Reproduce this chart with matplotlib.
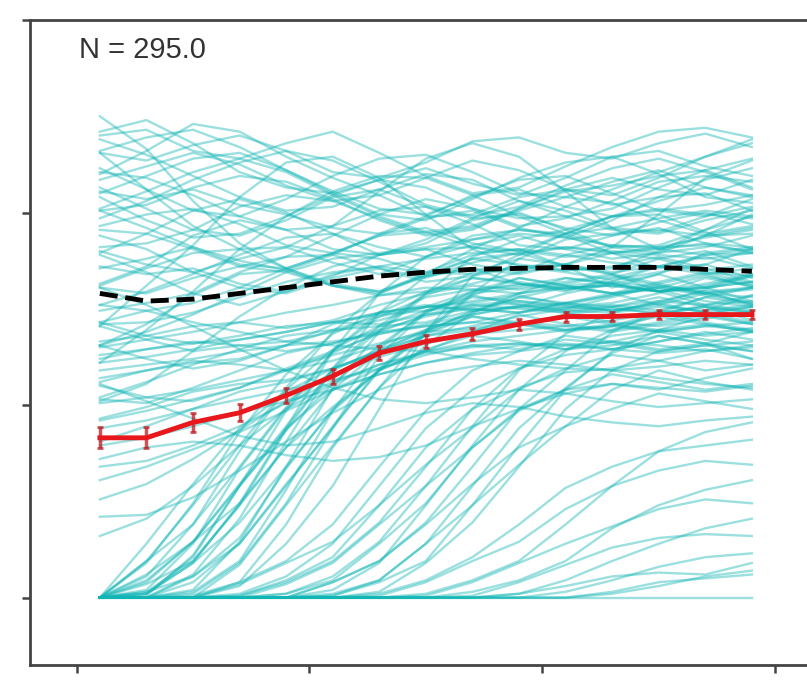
import matplotlib
matplotlib.use("Agg")
from matplotlib import pyplot as plt

# time points (bin centres)
t = [0.5, 1.5, 2.5, 3.5, 4.5, 5.5, 6.5, 7.5, 8.5, 9.5, 10.5, 11.5, 12.5, 13.5, 14.5]

# individual trajectories, grouped roughly by shape
high_paths = [
    [24.2, 24.8, 23.6, 22.1, 21.3, 21.0, 21.7, 22.3, 21.5, 20.9, 21.8, 22.9, 23.2, 22.4, 21.9],
    [23.1, 22.7, 23.5, 24.0, 23.2, 22.1, 21.8, 22.6, 23.7, 23.9, 23.1, 22.8, 23.6, 24.1, 23.4],
    [22.3, 21.2, 20.1, 19.8, 20.7, 21.9, 22.8, 23.0, 22.1, 21.0, 20.8, 21.6, 22.2, 21.3, 20.8],
    [21.0, 21.9, 22.8, 23.1, 22.2, 21.0, 19.9, 19.6, 20.7, 21.8, 22.6, 22.9, 22.0, 20.8, 20.5],
    [20.1, 20.4, 21.3, 21.9, 21.6, 20.7, 19.6, 18.8, 19.1, 20.2, 21.1, 21.4, 21.9, 22.2, 21.3],
    [19.3, 19.9, 20.2, 19.4, 18.3, 17.9, 18.8, 19.7, 20.1, 19.2, 18.7, 19.6, 20.8, 21.0, 20.1],
    [23.8, 23.0, 21.9, 20.8, 20.1, 20.3, 21.2, 22.0, 21.7, 20.6, 19.8, 20.2, 21.3, 22.2, 22.8],
    [18.2, 18.4, 19.1, 20.3, 20.9, 20.6, 19.7, 18.9, 19.2, 20.1, 20.8, 20.5, 19.6, 18.9, 19.3],
    [17.1, 17.6, 18.2, 17.5, 17.0, 17.8, 18.9, 19.2, 18.4, 18.0, 18.9, 19.8, 20.1, 20.4, 20.9],
    [23.2, 23.9, 24.3, 23.4, 22.2, 21.1, 20.2, 19.9, 20.8, 21.7, 21.9, 21.0, 20.1, 19.8, 20.3],
    [16.3, 17.2, 18.8, 19.6, 19.1, 18.1, 17.8, 18.6, 19.7, 19.9, 19.2, 18.8, 19.5, 20.0, 19.4],
    [22.1, 21.8, 20.9, 19.8, 19.1, 19.3, 20.1, 20.3, 19.4, 18.3, 18.1, 18.8, 19.2, 18.4, 17.9],
    [20.2, 21.1, 22.1, 22.8, 22.1, 20.9, 19.8, 19.0, 19.3, 20.2, 21.2, 21.8, 21.2, 20.9, 21.7],
    [15.2, 15.9, 16.8, 17.8, 18.7, 18.9, 18.2, 17.7, 18.3, 18.8, 18.1, 17.6, 17.9, 18.2, 18.8],
    [19.1, 18.9, 18.1, 17.2, 17.7, 18.8, 19.9, 20.7, 20.2, 19.7, 19.8, 19.1, 18.9, 19.6, 20.1],
    [21.3, 20.2, 19.1, 18.8, 19.6, 20.8, 21.2, 20.3, 19.7, 20.6, 20.1, 19.2, 19.0, 19.8, 20.7],
    [18.0, 17.3, 16.9, 17.6, 18.2, 17.4, 16.8, 17.7, 18.6, 19.1, 18.8, 17.9, 17.1, 17.3, 18.1],
    [24.0, 24.3, 23.2, 22.8, 23.6, 24.2, 23.1, 21.9, 21.0, 21.3, 22.4, 23.4, 24.2, 24.4, 23.9],
    [16.1, 15.8, 16.6, 17.2, 16.9, 16.2, 15.9, 16.7, 17.1, 16.8, 17.3, 17.9, 17.6, 16.9, 16.7],
    [17.9, 18.9, 20.1, 20.7, 20.0, 18.9, 17.8, 18.4, 19.6, 20.0, 19.1, 18.2, 17.9, 18.8, 19.2],
    [14.3, 14.9, 15.3, 16.1, 17.1, 17.9, 17.6, 16.9, 16.8, 17.2, 17.0, 17.1, 18.0, 19.1, 19.8],
    [20.1, 19.2, 18.2, 17.3, 17.1, 17.9, 18.8, 19.0, 18.2, 17.8, 18.9, 19.8, 19.9, 19.0, 18.1],
    [22.0, 23.2, 24.6, 24.2, 22.9, 21.8, 20.9, 19.8, 19.9, 20.8, 21.2, 20.9, 21.8, 22.9, 23.8],
    [14.9, 15.3, 15.8, 16.9, 17.7, 17.8, 17.1, 16.6, 17.4, 17.9, 17.2, 16.8, 17.6, 18.0, 17.2],
    [18.8, 18.1, 16.9, 16.1, 15.8, 16.6, 17.1, 16.4, 16.7, 17.2, 16.9, 16.5, 16.9, 17.3, 16.6],
    [17.2, 16.8, 17.1, 16.3, 15.9, 16.7, 17.8, 18.1, 17.3, 16.9, 17.8, 18.3, 18.2, 18.7, 19.1],
    [21.1, 20.7, 21.2, 20.4, 19.9, 19.2, 18.9, 19.8, 20.9, 21.2, 20.3, 19.8, 20.6, 21.3, 20.9],
    [13.1, 14.2, 15.7, 16.8, 17.0, 16.2, 15.8, 16.7, 17.1, 16.3, 15.9, 16.6, 17.2, 16.8, 16.1],
    [17.8, 16.9, 15.8, 15.2, 15.9, 16.8, 17.2, 16.9, 17.8, 18.1, 17.2, 16.1, 16.8, 17.9, 18.2],
    [16.2, 17.1, 17.9, 18.1, 17.1, 16.2, 15.7, 15.9, 16.3, 16.9, 17.3, 16.8, 15.9, 16.1, 16.8],
    [25.0, 23.3, 20.6, 18.4, 17.1, 16.3, 15.9, 16.8, 18.1, 19.2, 20.3, 21.2, 22.1, 22.9, 23.6],
    [12.2, 13.9, 15.9, 18.1, 19.8, 21.1, 21.9, 21.8, 20.9, 19.8, 18.9, 18.2, 18.3, 19.1, 20.2],
    [23.1, 21.2, 19.3, 18.1, 18.2, 19.3, 21.1, 22.8, 23.6, 22.9, 21.1, 19.2, 18.1, 18.8, 19.9],
    [14.1, 16.2, 18.3, 20.8, 22.6, 22.9, 21.8, 19.9, 18.1, 17.2, 17.3, 18.2, 19.9, 21.8, 22.7],
    [21.7, 22.4, 23.1, 22.5, 21.4, 20.6, 20.9, 21.8, 22.7, 22.2, 21.2, 20.4, 20.8, 21.7, 22.3],
    [19.7, 20.6, 21.7, 22.6, 23.2, 22.7, 21.6, 20.4, 19.8, 20.3, 21.4, 22.3, 22.8, 22.1, 21.2],
    [20.8, 19.6, 18.7, 18.9, 19.8, 20.9, 21.7, 21.3, 20.2, 19.3, 19.7, 20.6, 21.6, 21.9, 21.6],
]

mid_paths = [
    [12.2, 12.5, 12.9, 13.4, 13.8, 14.3, 14.8, 15.1, 15.4, 15.8, 16.1, 16.2, 15.9, 16.3, 16.8],
    [10.3, 10.1, 10.9, 11.8, 12.7, 13.2, 13.9, 14.6, 15.1, 15.3, 15.0, 15.6, 16.2, 15.9, 15.2],
    [13.1, 12.4, 11.9, 12.3, 13.1, 14.2, 14.8, 15.2, 14.9, 15.1, 15.8, 16.3, 15.9, 15.2, 15.7],
    [9.2, 9.7, 10.3, 10.9, 11.9, 12.8, 13.7, 14.2, 14.7, 15.2, 14.9, 14.8, 15.4, 15.9, 16.1],
    [14.1, 13.4, 12.8, 13.1, 13.3, 13.8, 14.4, 15.1, 15.9, 16.3, 16.1, 15.8, 16.4, 16.9, 16.3],
    [11.2, 11.8, 12.3, 12.1, 11.8, 12.7, 13.8, 14.7, 15.0, 14.8, 15.3, 15.1, 14.7, 15.2, 15.4],
    [8.1, 8.9, 9.8, 10.7, 11.2, 11.9, 12.8, 13.6, 14.1, 14.6, 15.0, 15.2, 14.9, 14.7, 15.1],
    [12.4, 12.9, 13.3, 13.1, 12.8, 13.2, 13.8, 14.1, 14.3, 14.8, 15.1, 14.9, 15.3, 14.8, 14.3],
    [10.1, 10.4, 10.8, 11.3, 11.8, 12.3, 13.1, 13.9, 14.7, 15.1, 14.8, 14.3, 14.1, 14.5, 14.9],
    [13.3, 13.6, 14.1, 14.3, 14.0, 14.4, 15.2, 15.8, 16.2, 16.0, 16.3, 16.7, 16.2, 15.8, 16.1],
    [11.0, 10.4, 10.2, 10.9, 11.8, 12.6, 13.2, 13.8, 14.0, 14.3, 14.1, 13.8, 14.2, 14.7, 14.2],
    [9.3, 9.9, 10.7, 11.1, 11.3, 11.9, 12.7, 13.3, 13.8, 14.2, 14.7, 15.0, 14.8, 14.3, 13.9],
    [14.3, 13.6, 13.2, 13.6, 14.1, 14.3, 14.2, 14.7, 15.2, 15.4, 15.2, 15.7, 16.3, 16.8, 17.1],
    [11.8, 12.1, 12.4, 12.8, 13.1, 13.3, 13.7, 14.1, 14.3, 14.2, 13.9, 14.1, 13.8, 13.4, 13.1],
    [10.4, 11.2, 12.1, 12.9, 13.6, 13.9, 14.1, 14.3, 14.9, 15.6, 16.1, 16.2, 15.9, 16.1, 16.4],
    [7.9, 8.3, 8.9, 9.6, 10.2, 10.8, 11.6, 12.2, 12.7, 13.1, 13.2, 12.9, 12.7, 12.9, 12.4],
    [13.0, 13.4, 13.8, 14.3, 14.8, 15.2, 15.7, 16.1, 16.0, 15.8, 16.2, 16.4, 16.1, 15.7, 15.3],
    [11.4, 11.8, 12.2, 12.4, 13.1, 13.9, 14.6, 15.1, 15.0, 14.8, 15.3, 15.7, 16.1, 15.8, 15.6],
    [8.8, 9.2, 9.8, 10.3, 10.8, 11.3, 11.9, 12.6, 13.1, 13.2, 12.9, 13.3, 13.8, 14.1, 13.9],
    [12.6, 12.9, 13.2, 13.4, 13.8, 14.3, 14.7, 14.9, 15.2, 15.0, 14.8, 15.1, 15.4, 15.2, 14.9],
    [5.1, 5.9, 7.2, 8.7, 10.2, 11.6, 12.5, 13.2, 13.7, 13.9, 14.1, 14.4, 14.8, 15.1, 14.8],
    [3.2, 4.1, 5.8, 7.9, 9.8, 11.1, 12.1, 12.8, 13.3, 13.6, 13.9, 14.2, 13.9, 13.6, 13.8],
    [6.8, 7.1, 7.9, 8.9, 10.1, 11.2, 12.1, 12.7, 13.0, 13.2, 13.1, 12.9, 13.3, 13.7, 14.0],
    [4.2, 4.3, 5.2, 6.6, 8.1, 9.6, 10.8, 11.6, 12.0, 12.3, 12.1, 11.8, 12.0, 12.3, 12.1],
    [6.1, 6.8, 7.7, 8.6, 9.7, 10.8, 11.6, 12.2, 12.6, 12.8, 13.1, 13.3, 13.1, 12.8, 13.0],
    [15.2, 14.9, 14.3, 13.8, 13.3, 13.1, 12.9, 12.8, 12.4, 12.1, 11.9, 11.8, 11.4, 11.1, 10.9],
    [16.1, 15.2, 14.1, 12.9, 11.8, 10.9, 10.3, 10.1, 10.4, 10.8, 10.6, 10.2, 9.9, 10.1, 10.3],
    [11.1, 10.2, 9.3, 8.4, 7.9, 8.1, 8.8, 9.6, 10.1, 9.9, 9.4, 9.1, 8.9, 9.2, 9.4],
    [7.2, 7.8, 8.1, 7.9, 7.4, 7.1, 7.3, 7.9, 8.9, 9.8, 10.6, 11.1, 10.9, 10.7, 11.0],
    [14.2, 14.3, 14.8, 15.6, 16.4, 16.9, 17.2, 17.6, 17.9, 18.1, 17.8, 17.4, 17.2, 17.0, 17.3],
    [10.2, 11.1, 12.8, 14.6, 16.1, 17.2, 17.8, 18.1, 18.2, 18.0, 17.7, 17.9, 18.2, 18.3, 18.0],
    [13.1, 13.8, 14.7, 15.8, 16.9, 17.6, 17.9, 18.2, 18.6, 18.9, 18.7, 18.3, 18.1, 17.8, 17.9],
]

early_paths = [
    [0, 0.2, 2.1, 5.8, 9.7, 12.8, 14.6, 15.6, 16.0, 16.2, 16.6, 16.3, 15.9, 16.1, 16.4],
    [0, 1.1, 3.8, 7.6, 10.8, 12.9, 14.1, 14.9, 15.6, 15.4, 15.1, 15.3, 15.8, 16.6, 16.2],
    [0, 0, 0.4, 2.9, 6.8, 10.9, 13.8, 15.7, 16.6, 16.4, 16.0, 16.3, 16.8, 16.1, 15.4],
    [0, 1.8, 4.9, 8.6, 11.6, 13.7, 14.8, 15.1, 15.3, 15.7, 15.2, 14.9, 15.3, 16.0, 16.7],
    [0, 0, 1.2, 4.1, 8.1, 11.9, 14.8, 16.7, 17.6, 17.3, 17.0, 17.2, 17.7, 17.1, 16.4],
    [0, 0.4, 2.8, 6.7, 9.8, 11.8, 12.9, 13.8, 14.6, 14.3, 13.9, 14.1, 14.6, 14.2, 13.8],
    [0, 0.9, 2.9, 5.8, 8.7, 11.1, 13.1, 14.8, 15.9, 16.6, 16.2, 15.8, 16.0, 15.4, 15.1],
    [0, 0, 0.3, 1.9, 5.6, 9.7, 12.9, 14.9, 15.8, 16.1, 16.4, 16.8, 16.3, 15.8, 16.0],
    [0, 0.3, 1.9, 4.8, 8.7, 11.9, 14.1, 15.8, 16.9, 17.6, 17.3, 16.9, 17.2, 17.8, 18.1],
    [0, 2.8, 5.9, 8.8, 10.7, 11.9, 12.8, 13.6, 13.9, 14.2, 14.6, 14.2, 13.8, 14.1, 14.3],
    [0, 0, 0.8, 2.8, 5.8, 8.9, 11.8, 13.8, 14.9, 15.1, 15.3, 15.8, 15.2, 14.8, 15.1],
    [0, 0, 0, 1.7, 4.8, 7.9, 10.9, 13.1, 14.8, 15.8, 16.6, 16.3, 15.9, 16.2, 16.7],
    [0, 0.7, 1.9, 4.8, 7.8, 10.8, 12.8, 13.9, 14.8, 15.6, 15.3, 14.9, 15.2, 15.8, 15.3],
    [0, 0.2, 1.8, 3.9, 6.8, 9.7, 11.8, 12.9, 13.6, 13.3, 12.9, 13.1, 13.6, 13.2, 12.8],
    [0, 0, 0, 0.8, 3.8, 7.8, 10.9, 13.8, 15.7, 16.6, 16.2, 15.8, 16.1, 16.7, 16.2],
    [0, 1.9, 3.8, 6.8, 9.9, 12.8, 14.8, 15.9, 16.6, 16.3, 16.0, 16.4, 17.2, 17.7, 17.1],
    [0, 0.3, 1.1, 3.1, 6.7, 9.8, 11.8, 12.8, 13.1, 12.9, 13.4, 13.2, 12.8, 13.1, 13.3],
    [0, 0, 0.2, 1.8, 4.9, 8.8, 12.6, 14.8, 15.7, 15.2, 14.9, 15.1, 15.6, 15.1, 14.4],
    [0, 1.2, 2.9, 4.9, 7.8, 9.9, 11.8, 13.7, 14.6, 14.2, 13.8, 14.1, 14.8, 15.6, 15.2],
    [0, 0.1, 2.2, 5.8, 8.8, 10.8, 11.9, 12.8, 13.8, 14.7, 14.2, 13.9, 14.3, 14.9, 15.7],
    [0, 0, 1.1, 2.8, 5.9, 8.8, 11.9, 13.9, 15.8, 17.6, 18.6, 18.9, 19.1, 18.8, 18.9],
    [0, 0.8, 2.9, 5.9, 8.9, 11.8, 13.9, 15.8, 17.7, 18.6, 19.1, 19.8, 20.2, 19.9, 19.7],
    [0, 0, 0, 0.6, 2.8, 5.8, 9.8, 13.8, 16.7, 17.8, 18.2, 17.9, 18.1, 18.4, 18.2],
    [0, 1.9, 4.8, 7.9, 10.9, 13.8, 15.8, 16.8, 17.6, 17.9, 18.2, 18.0, 17.8, 17.6, 17.9],
    [0, 0.2, 1.8, 4.9, 8.8, 12.8, 15.8, 17.7, 18.8, 19.1, 18.9, 19.2, 19.7, 20.1, 19.8],
]

late_paths = [
    [0, 0, 0, 0, 0.2, 1.1, 2.9, 5.8, 8.9, 11.8, 13.7, 14.8, 15.1, 14.9, 15.2],
    [0, 0, 0, 0.1, 0.8, 1.9, 3.9, 6.8, 9.8, 11.9, 12.9, 13.6, 13.9, 14.2, 13.8],
    [0, 0, 0, 0, 0, 0.4, 1.8, 4.8, 7.9, 10.8, 12.8, 13.9, 14.7, 15.1, 14.8],
    [0, 0, 0, 0.2, 1.1, 2.8, 5.8, 8.8, 10.8, 11.9, 12.6, 12.9, 13.3, 13.8, 13.4],
    [0, 0, 0, 0, 0, 0.8, 1.9, 3.9, 6.8, 9.8, 11.8, 13.8, 14.9, 15.6, 16.1],
    [0, 0, 0.1, 0.8, 1.9, 3.8, 6.8, 9.7, 11.8, 12.8, 13.6, 13.3, 12.9, 13.2, 13.8],
    [0, 0, 0, 0, 0, 0.2, 0.9, 2.8, 5.8, 8.8, 10.9, 12.7, 13.6, 13.2, 12.4],
    [0, 0, 0, 0.1, 0.9, 2.1, 4.8, 7.8, 9.8, 10.9, 11.7, 11.9, 12.3, 12.8, 13.1],
    [0, 0, 0, 0, 0.2, 0.9, 2.8, 4.9, 7.8, 9.8, 10.8, 11.6, 11.2, 10.8, 11.1],
    [0, 0, 0, 0, 0, 0.1, 0.8, 1.9, 4.8, 7.9, 10.8, 12.8, 13.9, 14.6, 14.2],
    [0, 0, 0, 0.7, 1.8, 2.9, 4.8, 6.9, 8.8, 10.8, 11.9, 12.6, 12.3, 11.8, 12.1],
    [0, 0, 0, 0, 0, 0, 0.3, 1.8, 3.9, 6.8, 9.8, 11.8, 12.8, 13.1, 12.8],
    [0, 0, 0, 0, 0.7, 1.8, 3.8, 5.8, 7.8, 9.7, 10.8, 11.1, 10.8, 11.4, 11.9],
    [0, 0, 0, 0, 0, 0.8, 1.9, 3.8, 5.9, 7.8, 8.9, 9.8, 10.6, 10.2, 9.8],
    [0, 0, 0, 0, 0, 0.1, 0.9, 2.8, 4.8, 6.9, 8.9, 10.8, 11.8, 11.2, 10.8],
    [0, 0, 0, 0, 0, 0, 0, 0.2, 0.9, 1.9, 3.8, 5.8, 7.6, 8.6, 9.1],
    [0, 0, 0, 0, 0, 0, 0.1, 0.8, 1.9, 2.9, 4.6, 5.8, 6.6, 7.1, 6.9],
    [0, 0, 0, 0, 0, 0, 0, 0, 0.3, 0.9, 1.9, 3.6, 4.8, 5.6, 6.1],
    [0, 0, 0, 0, 0, 0, 0, 0.1, 0.8, 1.8, 2.8, 3.7, 4.6, 5.1, 4.9],
    [0, 0, 0, 0, 0, 0, 0, 0, 0, 0.2, 0.9, 1.9, 2.8, 3.6, 4.1],
    [0, 0, 0, 0, 0, 0, 0.2, 0.9, 2.1, 3.8, 5.7, 6.8, 7.6, 7.9, 8.2],
    [0, 0, 0, 0, 0, 0, 0, 0, 0.1, 0.8, 1.7, 2.6, 3.1, 3.3, 3.2],
    [0, 0, 0, 0, 0, 0, 0, 0, 0, 0, 0.3, 0.9, 1.6, 2.1, 2.3],
    [0, 0, 0, 0, 0, 0, 0, 0, 0, 0, 0, 0.2, 0.6, 1.1, 1.4],
    [0, 0, 0, 0, 0, 0, 0, 0, 0, 0, 0, 0, 0, 0, 0],
    [0, 0, 0, 0, 0, 0, 0, 0, 0, 0.2, 0.6, 1.1, 1.3, 1.2, 1.8],
    [0, 0, 0, 0, 0, 0, 0, 0, 0, 0, 0, 0.3, 0.8, 1.0, 1.2],
]

# summary curves
mean_vals = [8.3, 8.3, 9.1, 9.6, 10.5, 11.5, 12.7, 13.3, 13.7, 14.2, 14.6, 14.6, 14.7, 14.7, 14.7]
mean_err = [0.55, 0.55, 0.5, 0.45, 0.4, 0.38, 0.35, 0.32, 0.3, 0.28, 0.26, 0.25, 0.25, 0.25, 0.25]
ref_vals = [15.8, 15.4, 15.5, 15.8, 16.1, 16.4, 16.7, 16.9, 17.05, 17.1, 17.15, 17.15, 17.15, 17.05, 16.95]

n_label = "N = 295.0"

fig = plt.figure(figsize=(8.07, 6.96), dpi=100)
ax = fig.add_axes([30 / 807, 31 / 696, 815 / 807, 645 / 696])

for group in (high_paths, mid_paths, early_paths, late_paths):
    for p in group:
        ax.plot(t, p, color='#12b5b5', alpha=0.42, lw=1.7, zorder=1)

ax.plot(t, ref_vals, color='black', ls='--', lw=3.5, zorder=3)
ax.errorbar(t, mean_vals, yerr=mean_err, color='#e8171c', lw=3.5,
            ecolor=(0.75, 0.1, 0.12, 0.75), elinewidth=2.5, capsize=2,
            capthick=2, zorder=4)

ax.text(0.06, 0.953, n_label, transform=ax.transAxes, fontsize=21,
        family='Liberation Sans', va='center', ha='left', color='#333333')

ax.set_xlim(-1, 16.5)
ax.set_ylim(-3.5, 30)
ax.set_xticks([0, 5, 10, 15])
ax.set_yticks([0, 10, 20, 30])
ax.set_xticklabels([])
ax.set_yticklabels([])
ax.tick_params(direction='out', length=6, width=1.8, color='#444444')
for s in ('left', 'top', 'bottom', 'right'):
    ax.spines[s].set_linewidth(2)
    ax.spines[s].set_color('#444444')

plt.savefig("out.png", dpi=100)
